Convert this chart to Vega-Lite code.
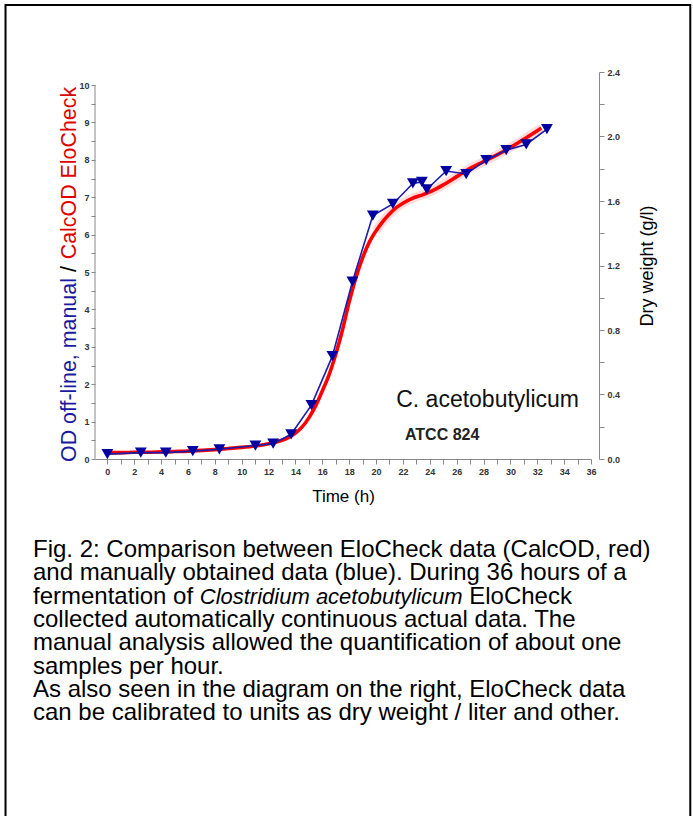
{
  "$schema": "https://vega.github.io/schema/vega-lite/v6.json",
  "width": 496,
  "height": 387,
  "autosize": {"type": "none"},
  "padding": {"left": 95, "top": 72, "right": 102, "bottom": 357},
  "background": "white",
  "config": {"view": {"stroke": null}, "font": "Liberation Sans"},
  "datasets": {
    "red": [
      {"t": 0, "od": 0.17}, {"t": 1, "od": 0.17}, {"t": 2, "od": 0.18}, {"t": 3, "od": 0.18},
      {"t": 4, "od": 0.19}, {"t": 5, "od": 0.2}, {"t": 6, "od": 0.21}, {"t": 7, "od": 0.23},
      {"t": 8, "od": 0.25}, {"t": 9, "od": 0.28}, {"t": 10, "od": 0.31}, {"t": 11, "od": 0.35},
      {"t": 12, "od": 0.41}, {"t": 12.5, "od": 0.45}, {"t": 13, "od": 0.5}, {"t": 13.5, "od": 0.58},
      {"t": 14, "od": 0.69}, {"t": 14.5, "od": 0.86}, {"t": 15, "od": 1.1}, {"t": 15.5, "od": 1.42},
      {"t": 16, "od": 1.82}, {"t": 16.5, "od": 2.25}, {"t": 17, "od": 2.8}, {"t": 17.5, "od": 3.45},
      {"t": 18, "od": 4.2}, {"t": 18.5, "od": 4.85}, {"t": 19, "od": 5.38}, {"t": 19.5, "od": 5.8},
      {"t": 20, "od": 6.1}, {"t": 20.5, "od": 6.35}, {"t": 21, "od": 6.55}, {"t": 21.5, "od": 6.72},
      {"t": 22, "od": 6.84}, {"t": 22.7, "od": 6.97}, {"t": 23.5, "od": 7.07}, {"t": 24, "od": 7.14},
      {"t": 25, "od": 7.33}, {"t": 26, "od": 7.55}, {"t": 27, "od": 7.77}, {"t": 28, "od": 7.95},
      {"t": 29, "od": 8.13}, {"t": 30, "od": 8.33}, {"t": 31, "od": 8.55}, {"t": 32, "od": 8.78},
      {"t": 32.3, "od": 8.85}
    ],
    "blue": [
      {"t": 0, "od": 0.13}, {"t": 2.49, "od": 0.17}, {"t": 4.35, "od": 0.17}, {"t": 6.36, "od": 0.21},
      {"t": 8.34, "od": 0.26}, {"t": 11.02, "od": 0.36}, {"t": 12.34, "od": 0.41}, {"t": 13.68, "od": 0.66},
      {"t": 15.19, "od": 1.44}, {"t": 16.75, "od": 2.75}, {"t": 18.24, "od": 4.74}, {"t": 19.76, "od": 6.51},
      {"t": 21.25, "od": 6.82}, {"t": 22.74, "od": 7.37}, {"t": 23.41, "od": 7.41}, {"t": 23.78, "od": 7.21},
      {"t": 25.22, "od": 7.7}, {"t": 26.71, "od": 7.62}, {"t": 28.2, "od": 7.99}, {"t": 29.69, "od": 8.26},
      {"t": 31.18, "od": 8.41}, {"t": 32.72, "od": 8.82}
    ],
    "caption": [
      {"line": 1, "part": "n", "text": "Fig. 2: Comparison between EloCheck data (CalcOD, red)"},
      {"line": 2, "part": "n", "text": "and manually obtained data (blue). During 36 hours of a"},
      {"line": 3, "part": "n", "text": "fermentation of"},
      {"line": 3, "part": "i", "text": "Clostridium acetobutylicum"},
      {"line": 3, "part": "e", "text": "EloCheck"},
      {"line": 4, "part": "n", "text": "collected automatically continuous actual data. The"},
      {"line": 5, "part": "n", "text": "manual analysis allowed the quantification of about one"},
      {"line": 6, "part": "n", "text": "samples per hour."},
      {"line": 7, "part": "n", "text": "As also seen in the diagram on the right, EloCheck data"},
      {"line": 8, "part": "n", "text": "can be calibrated to units as dry weight / liter and other."}
    ]
  },
  "layer": [
    {
      "data": {"name": "red"},
      "transform": [{"filter": "datum.t >= 20"}],
      "mark": {"type": "line", "color": "#ff2020", "strokeWidth": 9, "opacity": 0.16, "interpolate": "monotone"},
      "encoding": {
        "x": {
          "field": "t", "type": "quantitative",
          "scale": {"domain": [-0.92, 36], "nice": false, "zero": false},
          "axis": {
            "orient": "bottom",
            "values": [0,1,2,3,4,5,6,7,8,9,10,11,12,13,14,15,16,17,18,19,20,21,22,23,24,25,26,27,28,29,30,31,32,33,34,35,36],
            "labelExpr": "datum.value % 2 === 0 ? format(datum.value, 'd') : ''",
            "title": "Time (h)", "titleFontSize": 17, "titleFontWeight": "normal", "titleColor": "#000000",
            "titlePadding": 12, "labelFontSize": 9, "labelFontWeight": "bold", "labelColor": "#333333",
            "labelPadding": 3, "tickSize": 5, "tickColor": "#888888", "domainColor": "#888888",
            "grid": false, "labelFlush": false, "labelOverlap": false
          }
        },
        "y": {
          "field": "od", "type": "quantitative",
          "scale": {"domain": [0, 10.348], "nice": false, "zero": false},
          "axis": {
            "orient": "left",
            "values": [0,0.5,1,1.5,2,2.5,3,3.5,4,4.5,5,5.5,6,6.5,7,7.5,8,8.5,9,9.5,10],
            "labelExpr": "datum.value % 1 === 0 ? format(datum.value, 'd') : ''",
            "title": null, "domain": false, "labelFontSize": 9, "labelFontWeight": "bold",
            "labelColor": "#333333", "labelPadding": 2, "tickSize": 4, "tickColor": "#888888",
            "grid": false, "labelOverlap": false
          }
        }
      }
    },
    {
      "data": {"name": "red"},
      "mark": {"type": "line", "color": "#ff0000", "strokeWidth": 3.6, "interpolate": "monotone"},
      "encoding": {
        "x": {"field": "t", "type": "quantitative", "scale": {"domain": [-0.92, 36], "nice": false, "zero": false}, "axis": null},
        "y": {"field": "od", "type": "quantitative", "scale": {"domain": [0, 10.348], "nice": false, "zero": false}, "axis": null}
      }
    },
    {
      "data": {"name": "blue"},
      "mark": {"type": "line", "color": "#1c1ca8", "strokeWidth": 1.6},
      "encoding": {
        "x": {"field": "t", "type": "quantitative", "scale": {"domain": [-0.92, 36], "nice": false, "zero": false}, "axis": null},
        "y": {"field": "od", "type": "quantitative", "scale": {"domain": [0, 10.348], "nice": false, "zero": false}, "axis": null}
      }
    },
    {
      "data": {"name": "blue"},
      "mark": {"type": "point", "shape": "triangle-down", "filled": true, "color": "#0000a0", "size": 140, "opacity": 1},
      "encoding": {
        "x": {"field": "t", "type": "quantitative", "scale": {"domain": [-0.92, 36], "nice": false, "zero": false}, "axis": null},
        "y": {"field": "od", "type": "quantitative", "scale": {"domain": [0, 10.348], "nice": false, "zero": false}, "axis": null}
      }
    },
    {
      "data": {"values": [{}]},
      "mark": {"type": "rule", "color": "#888888", "strokeWidth": 1},
      "encoding": {
        "x": {"datum": -0.92, "type": "quantitative", "scale": {"domain": [-0.92, 36], "nice": false, "zero": false}, "axis": null},
        "y": {"datum": 0, "type": "quantitative", "scale": {"domain": [0, 10.348], "nice": false, "zero": false}, "axis": null},
        "y2": {"datum": 10}
      }
    },
    {
      "data": {"values": [{}]},
      "mark": {"type": "rect", "fill": null, "fillOpacity": 0, "stroke": "#000000", "strokeWidth": 2},
      "encoding": {
        "x": {"datum": -7.58, "type": "quantitative", "scale": {"domain": [-0.92, 36], "nice": false, "zero": false}, "axis": null},
        "x2": {"datum": 43.39},
        "y": {"datum": 12.14, "type": "quantitative", "scale": {"domain": [0, 10.348], "nice": false, "zero": false}, "axis": null},
        "y2": {"datum": -12}
      }
    },
    {
      "data": {"values": [{}]},
      "mark": {"type": "text", "text": "C. acetobutylicum", "fontSize": 23, "align": "left", "baseline": "alphabetic", "color": "#111111"},
      "encoding": {
        "x": {"datum": 21.5, "type": "quantitative", "scale": {"domain": [-0.92, 36], "nice": false, "zero": false}, "axis": null},
        "y": {"datum": 1.4, "type": "quantitative", "scale": {"domain": [0, 10.348], "nice": false, "zero": false}, "axis": null}
      }
    },
    {
      "data": {"values": [{}]},
      "mark": {"type": "text", "text": "ATCC 824", "fontSize": 16, "fontWeight": "bold", "align": "left", "baseline": "alphabetic", "color": "#222222"},
      "encoding": {
        "x": {"datum": 22.15, "type": "quantitative", "scale": {"domain": [-0.92, 36], "nice": false, "zero": false}, "axis": null},
        "y": {"datum": 0.5, "type": "quantitative", "scale": {"domain": [0, 10.348], "nice": false, "zero": false}, "axis": null}
      }
    },
    {
      "data": {"values": [{}]},
      "mark": {"type": "text", "text": "OD off-line, manual", "fontSize": 21.4, "angle": 270, "align": "left", "baseline": "middle", "color": "#1a1aa0"},
      "encoding": {
        "x": {"datum": -2.75, "type": "quantitative", "scale": {"domain": [-0.92, 36], "nice": false, "zero": false}, "axis": null},
        "y": {"datum": -0.08, "type": "quantitative", "scale": {"domain": [0, 10.348], "nice": false, "zero": false}, "axis": null}
      }
    },
    {
      "data": {"values": [{}]},
      "mark": {"type": "text", "text": "/", "fontSize": 21.4, "angle": 270, "align": "center", "baseline": "middle", "color": "#000000"},
      "encoding": {
        "x": {"datum": -2.75, "type": "quantitative", "scale": {"domain": [-0.92, 36], "nice": false, "zero": false}, "axis": null},
        "y": {"datum": 5.08, "type": "quantitative", "scale": {"domain": [0, 10.348], "nice": false, "zero": false}, "axis": null}
      }
    },
    {
      "data": {"values": [{}]},
      "mark": {"type": "text", "text": "CalcOD EloCheck", "fontSize": 21.4, "angle": 270, "align": "right", "baseline": "middle", "color": "#e00000"},
      "encoding": {
        "x": {"datum": -2.75, "type": "quantitative", "scale": {"domain": [-0.92, 36], "nice": false, "zero": false}, "axis": null},
        "y": {"datum": 9.95, "type": "quantitative", "scale": {"domain": [0, 10.348], "nice": false, "zero": false}, "axis": null}
      }
    },
    {
      "data": {"values": [{"dw": 0}, {"dw": 2.4}]},
      "mark": {"type": "point", "opacity": 0},
      "encoding": {
        "x": {"datum": 0, "type": "quantitative", "scale": {"domain": [-0.92, 36], "nice": false, "zero": false}, "axis": null},
        "y": {
          "field": "dw", "type": "quantitative",
          "scale": {"domain": [0, 2.4], "nice": false, "zero": false},
          "axis": {
            "orient": "right", "offset": 8,
            "values": [0,0.2,0.4,0.6,0.8,1,1.2,1.4,1.6,1.8,2,2.2,2.4],
            "labelExpr": "abs(datum.value / 0.4 - round(datum.value / 0.4)) < 0.001 ? format(datum.value, '.1f') : ''",
            "title": "Dry weight (g/l)", "titleAngle": 270, "titleFontSize": 18, "titleFontWeight": "normal",
            "titleColor": "#000000", "titlePadding": 37,
            "labelFontSize": 9, "labelFontWeight": "bold", "labelColor": "#333333", "labelPadding": 3,
            "tickSize": 5, "tickColor": "#888888", "domainColor": "#888888", "grid": false, "labelOverlap": false
          }
        }
      }
    },
    {
      "data": {"name": "caption"},
      "transform": [{"filter": "datum.part === 'n'"}],
      "mark": {"type": "text", "fontSize": 24, "align": "left", "baseline": "alphabetic", "color": "#000000"},
      "encoding": {
        "x": {"datum": -5.535, "type": "quantitative", "scale": {"domain": [-0.92, 36], "nice": false, "zero": false}, "axis": null},
        "y": {"field": "line", "type": "quantitative", "scale": {"domain": [-19.815, -3.206], "reverse": true, "nice": false, "zero": false}, "axis": null},
        "text": {"field": "text"}
      }
    },
    {
      "data": {"name": "caption"},
      "transform": [{"filter": "datum.part === 'i'"}],
      "mark": {"type": "text", "fontSize": 22, "fontStyle": "italic", "align": "left", "baseline": "alphabetic", "color": "#000000", "dx": 166.75},
      "encoding": {
        "x": {"datum": -5.535, "type": "quantitative", "scale": {"domain": [-0.92, 36], "nice": false, "zero": false}, "axis": null},
        "y": {"field": "line", "type": "quantitative", "scale": {"domain": [-19.815, -3.206], "reverse": true, "nice": false, "zero": false}, "axis": null},
        "text": {"field": "text"}
      }
    },
    {
      "data": {"name": "caption"},
      "transform": [{"filter": "datum.part === 'e'"}],
      "mark": {"type": "text", "fontSize": 24, "align": "left", "baseline": "alphabetic", "color": "#000000", "dx": 436.2},
      "encoding": {
        "x": {"datum": -5.535, "type": "quantitative", "scale": {"domain": [-0.92, 36], "nice": false, "zero": false}, "axis": null},
        "y": {"field": "line", "type": "quantitative", "scale": {"domain": [-19.815, -3.206], "reverse": true, "nice": false, "zero": false}, "axis": null},
        "text": {"field": "text"}
      }
    }
  ],
  "resolve": {"scale": {"y": "independent"}, "axis": {"x": "independent", "y": "independent"}}
}
